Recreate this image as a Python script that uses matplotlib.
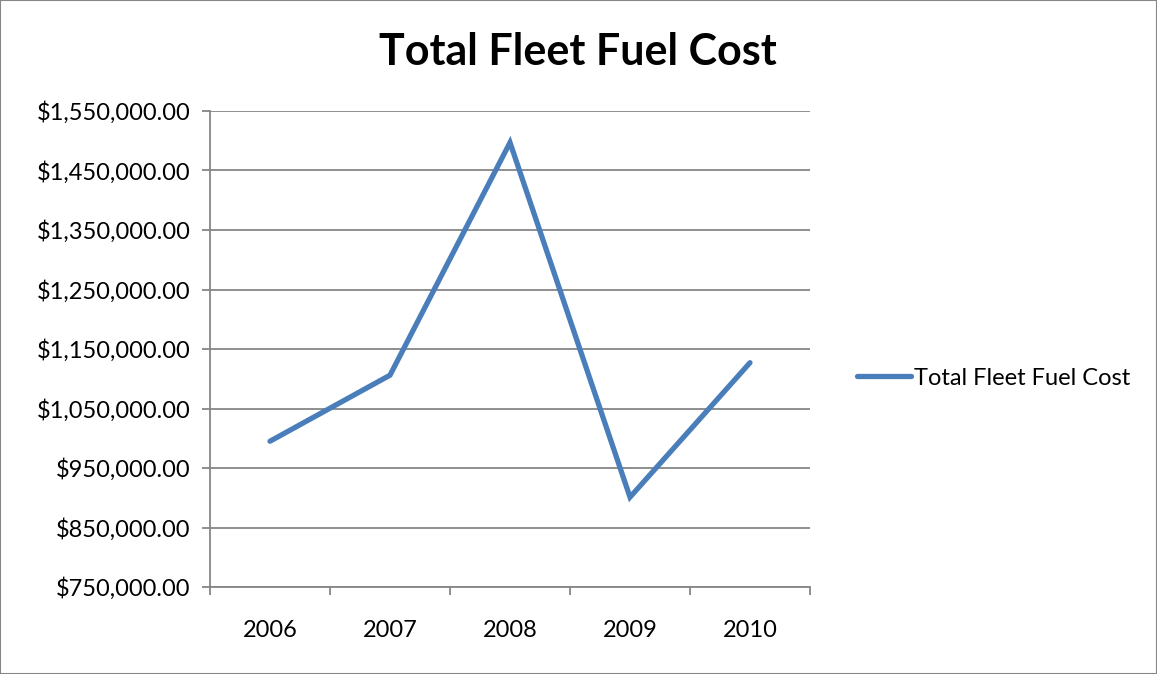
import matplotlib

matplotlib.use("Agg")
import matplotlib.pyplot as plt
from matplotlib.patches import Rectangle
from matplotlib.ticker import FixedLocator, FuncFormatter

years = ["2006", "2007", "2008", "2009", "2010"]
fuel_cost = [995000, 1106000, 1497000, 901000, 1127000]
y_ticks = [750000, 850000, 950000, 1050000, 1150000, 1250000, 1350000, 1450000, 1550000]

plt.rcParams["font.family"] = ["Lato", "DejaVu Sans"]

fig = plt.figure(figsize=(11.57, 6.74), dpi=100)
ax = fig.add_axes([210 / 1157, 87 / 674, 600 / 1157, 476 / 674])

xs = list(range(len(years)))
ax.plot(xs, fuel_cost, color="#4A7EBB", linewidth=3.8, solid_capstyle="round",
        solid_joinstyle="miter", label="Total Fleet Fuel Cost")

ax.set_xlim(-0.5, len(years) - 0.5)
ax.set_ylim(750000, 1550000)
ax.set_xticks(xs)
ax.set_xticklabels(years)
ax.xaxis.set_minor_locator(FixedLocator([x - 0.5 for x in range(len(years) + 1)]))
ax.tick_params(axis="x", which="major", length=0, pad=24, labelsize=17)
ax.tick_params(axis="x", which="minor", length=6, color="#868686", width=1.3)
ax.set_yticks(y_ticks)
ax.yaxis.set_major_formatter(FuncFormatter(lambda v, _: f"${v:,.2f}"))
ax.tick_params(axis="y", length=6, color="#868686", width=1.3, labelsize=17, pad=8)

ax.grid(axis="y", color="#868686", linewidth=1.3)
ax.set_axisbelow(True)
for side in ["top", "right"]:
    ax.spines[side].set_visible(False)
for side in ["left", "bottom"]:
    ax.spines[side].set_color("#868686")
    ax.spines[side].set_linewidth(1.3)

fig.text(578 / 1157, 1 - 52 / 674, "Total Fleet Fuel Cost", ha="center", va="center",
         fontsize=31, fontweight="bold")

ax.legend(loc="center left", bbox_to_anchor=(848 / 1157, 1 - 378 / 674),
          bbox_transform=fig.transFigure, frameon=False, fontsize=17,
          handlelength=2.25, handletextpad=0.15, borderaxespad=0)

fig.patches.append(Rectangle((0, 0), 1, 1, transform=fig.transFigure, fill=False,
                             edgecolor="#868686", linewidth=1.5))

fig.savefig("out.png", dpi=100)
